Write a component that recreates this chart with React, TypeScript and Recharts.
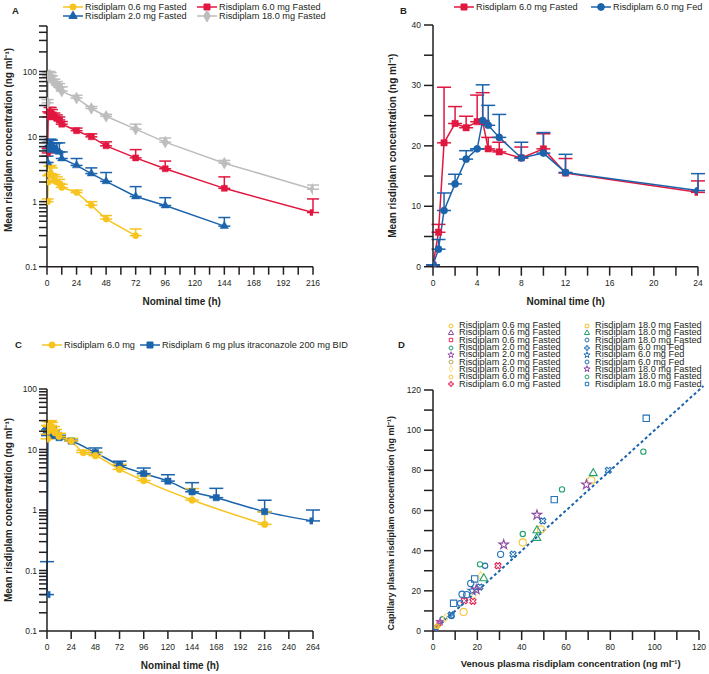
import React from 'react';
import {
  LineChart, ScatterChart, Line, Scatter, XAxis, YAxis, ErrorBar, Legend, ReferenceLine, Symbols,
} from 'recharts';

const FONT = '"Liberation Sans", Arial, Helvetica, sans-serif';
const INK = '#231f20';
const YELLOW = '#f7c41f';
const RED = '#e1173f';
const BLUE = '#1b63ab';
const GREY = '#bdbdbd';

// ---- panel A: single doses, fasted (log scale) ----
const tA06 = [0.5, 1, 2, 3, 4, 6, 8, 10, 12, 24, 36, 48, 72];
const cA06 = [1.0, 2.0, 2.6, 2.7, 2.5, 2.1, 2.0, 1.9, 1.65, 1.38, 0.88, 0.54, 0.3];
const eA06 = [0.1, 0.5, 0.9, 0.9, 0.8, 0.5, 0.4, 0.3, 0.2, 0.12, 0.12, 0.07, 0.08];
const tA2 = [0.5, 1, 2, 3, 4, 6, 8, 10, 12, 24, 36, 48, 72, 96, 144];
const cA2 = [4.0, 6.2, 7.0, 7.3, 7.0, 6.3, 6.0, 5.8, 4.6, 3.6, 2.7, 2.05, 1.2, 0.87, 0.42];
const eA2 = [1, 2, 2, 1.8, 1.8, 1.5, 2.0, 2.2, 1.2, 1.0, 0.6, 0.75, 0.5, 0.28, 0.15];
const tA6 = [0.5, 1, 2, 3, 4, 6, 8, 10, 12, 24, 36, 48, 72, 96, 144, 216];
const cA6 = [5.6, 20, 23, 23.5, 22, 20, 19, 18, 15.5, 12.3, 9.9, 7.2, 4.7, 3.2, 1.6, 0.68];
const eA6 = [1, 4, 5, 4.5, 4, 3, 2.5, 2, 1.5, 1.2, 1.1, 1.1, 1.6, 1.0, 0.8, 0.42];
const tA18 = [0.5, 1, 2, 3, 4, 6, 8, 10, 12, 24, 36, 48, 72, 96, 144, 216];
const cA18 = [33, 85, 88, 84, 76, 68, 62, 58, 50, 39, 27, 20.5, 13, 8.2, 3.9, 1.55];
const eA18 = [4, 12, 12, 12, 10, 8, 8, 7, 8, 4, 2, 1.5, 2.5, 1.3, 0.4, 0.25];
const aTimeTicks = [0, 12, 24, 36, 48, 60, 72, 84, 96, 108, 120, 132, 144, 156, 168, 180, 192, 204, 216];
const aTimeLabels = [0, 24, 48, 72, 96, 120, 144, 168, 192, 216];
const aDecades = [0.1, 1, 10, 100];

// ---- panel B: 6 mg fasted vs fed (linear scale) ----
const tB = [0, 0.5, 1, 2, 3, 4, 4.5, 5, 6, 8, 10, 12, 24];
const cBFasted = [0.3, 5.7, 20.5, 23.7, 23, 24, 24, 19.5, 19, 18, 19.5, 15.5, 12.3];
const eBFasted = [0, 1.3, 9.2, 2.8, 1.9, 4.4, 4.8, 1.9, 1.6, 1.8, 2.5, 2.4, 1.9];
const cBFed = [0.3, 2.9, 9.3, 13.7, 17.8, 19.5, 24.2, 23.4, 21.4, 18, 18.8, 15.6, 12.6];
const eBFed = [0, 1.6, 2.9, 1.6, 1.4, 0, 5.9, 3.3, 3.8, 2.6, 3.4, 3.0, 2.8];
const bTimeTicks = [0, 2, 4, 6, 8, 10, 12, 14, 16, 18, 20, 22, 24];
const bTimeLabels = [0, 4, 8, 12, 16, 20, 24];
const bConcTicks = [0, 5, 10, 15, 20, 25, 30, 35, 40];
const bConcLabels = [0, 10, 20, 30, 40];

// ---- panel C: itraconazole interaction (log scale) ----
const tC6 = [0.5, 1, 2, 3, 4, 6, 8, 12, 24, 36, 48, 72, 96, 144, 216];
const cC6 = [15, 20, 24, 25, 24, 21, 19, 16.5, 13.8, 8.9, 7.9, 4.7, 3.06, 1.46, 0.58];
const eC6 = [3, 5, 5, 5, 4, 3, 2.5, 2, 1.5, 0.8, 1.2, 1.0, 0.6, 0.8, 0.35];
const tCItra = [0, 1, 2, 3, 4, 6, 8, 12, 24, 48, 72, 96, 120, 144, 168, 216, 264];
const cCItra = [0.04, 17, 18, 19, 18, 17.5, 17, 15.7, 13.8, 8.9, 5.5, 4.0, 3.0, 2.0, 1.6, 0.94, 0.66];
const eCItra = [0.1, 4, 4, 4, 3, 3, 2, 1.5, 1.2, 1.7, 0.9, 0.94, 0.83, 0.83, 0.68, 0.51, 0.34];
const cTimeTicks = [0, 24, 48, 72, 96, 120, 144, 168, 192, 216, 240, 264];
const cDecades = [0.01, 0.1, 1, 10, 100];
const cDecadeLabels = ['0.1', '0.1', '1', '10', '100'];

// ---- panel D: capillary vs venous ----
const dLabels = [
  'Risdiplam 0.6 mg Fasted', 'Risdiplam 0.6 mg Fasted', 'Risdiplam 0.6 mg Fasted',
  'Risdiplam 2.0 mg Fasted', 'Risdiplam 2.0 mg Fasted', 'Risdiplam 2.0 mg Fasted',
  'Risdiplam 6.0 mg Fasted', 'Risdiplam 6.0 mg Fasted', 'Risdiplam 6.0 mg Fasted',
  'Risdiplam 18.0 mg Fasted', 'Risdiplam 18.0 mg Fasted', 'Risdiplam 18.0 mg Fasted',
  'Risdiplam 6.0 mg Fed', 'Risdiplam 6.0 mg Fed', 'Risdiplam 6.0 mg Fed',
  'Risdiplam 18.0 mg Fasted', 'Risdiplam 18.0 mg Fasted', 'Risdiplam 18.0 mg Fasted',
];
const dVenous = [
  [1.5, 2.3], [1.0], [2.7], [4.2], [3.2], [2.0],
  [21.5, 18.5, 5.5], [13.8, 40.5, 48.7, 71.4], [29.3, 14.1, 18.0],
  [1.7], [72.3, 46.9, 46.8, 22.9], [23.5, 12.2, 8.4],
  [79.1, 49.5, 36.1, 21.1, 8.1], [17.7, 0], [30.5, 17.0, 13.1, 15.2],
  [69.2, 46.9, 31.9, 19.5], [94.9, 58.2, 40.5, 21.2], [96.2, 54.7, 18.8, 9.3],
];
const dCapillary = [
  [1.6, 2.6], [1.3], [3.7], [6.1], [4.6], [2.4],
  [27.6, 17.9, 6.5], [9.5, 44.1, 50.6, 75.0], [32.5, 15.1, 14.8],
  [2.2], [78.5, 50.1, 46.3, 26.2], [32.5, 13.8, 7.5],
  [80.0, 54.8, 38.2, 21.9, 8.0], [20.1, 0], [38.2, 23.7, 18.3, 18.1],
  [72.9, 57.8, 43.0, 20.6], [89.3, 70.5, 48.3, 33.2], [105.9, 65.4, 25.9, 13.8],
];
const identityLine = [0, 122];
const dTicks = [0, 10, 20, 30, 40, 50, 60, 70, 80, 90, 100, 110, 120];
const dLabelsTicks = [0, 20, 40, 60, 80, 100, 120];

const dStyle = [
  { color: '#f5c21b', type: 'circle', size: 14 },
  { color: '#8e4aa3', type: 'triangle', size: 14 },
  { color: '#e2275a', type: 'square', size: 14 },
  { color: '#22a06b', type: 'circle', size: 14 },
  { color: '#9a52b0', type: 'star', size: 14 },
  { color: '#b3a44f', type: 'circle', size: 10 },
  { color: '#f9e08c', type: 'diamond', size: 20 },
  { color: '#f7c53a', type: 'circle', size: 40 },
  { color: '#e2275a', type: 'cross', size: 24, rot: true },
  { color: '#f2c230', type: 'square', size: 14, rot: true },
  { color: '#22a06b', type: 'triangle', size: 28 },
  { color: '#2472b5', type: 'circle', size: 22 },
  { color: '#2472b5', type: 'cross', size: 24, rot: true },
  { color: '#2472b5', type: 'star', size: 24 },
  { color: '#2472b5', type: 'circle', size: 30 },
  { color: '#8e4aa3', type: 'star', size: 28 },
  { color: '#22a06b', type: 'circle', size: 22 },
  { color: '#2472b5', type: 'square', size: 40 },
];

const rows = (t: number[], c: number[], e: number[]) => t.map((x, i) => ({ t: x, c: c[i], err: [0, e[i]] }));

const logTicks = (decades: number[], top: number) => {
  const out: number[] = [];
  decades.forEach((d) => {
    for (let k = 1; k <= 9; k++) {
      const v = +(d * k).toPrecision(3);
      if (v <= top) out.push(v);
    }
  });
  if (!out.includes(top)) out.push(top);
  return out;
};

const marker = (type: any, size: number, color: string) => (p: any) => {
  if (p.cx == null || p.cy == null) return <g key={`e${p.index}`} />;
  return <Symbols key={`m${p.index}`} cx={p.cx} cy={p.cy} type={type} size={size} fill={color} stroke={color} strokeWidth={0.5} />;
};

const axisLine = { stroke: INK, strokeWidth: 1.5 };
const tickStyle = { fill: INK, fontSize: 8.5, fontFamily: FONT };

const HTitle = ({ px, py, txt, fs = 10 }: any) => (
  <text x={px} y={py} textAnchor="middle" dominantBaseline="central" fontFamily={FONT} fontWeight="bold" fontSize={fs} fill={INK}>{txt}</text>
);
const VTitle = ({ px, py, txt, fs = 10 }: any) => (
  <text x={px} y={py} transform={`rotate(-90 ${px} ${py})`} textAnchor="middle" dominantBaseline="central" fontFamily={FONT} fontWeight="bold" fontSize={fs} fill={INK}>{txt}</text>
);

const KeyItem = ({ left, cy, color, type, size, label }: any) => (
  <div style={{ position: 'absolute', left, top: cy - 6, height: 12, display: 'flex', alignItems: 'center', whiteSpace: 'nowrap' }}>
    <svg width={20} height={12}>
      <line x1={0} y1={6} x2={20} y2={6} stroke={color} strokeWidth={1.5} />
      <Symbols cx={10} cy={6} type={type} size={size} fill={color} stroke={color} />
    </svg>
    <span style={{ marginLeft: 2, fontSize: 9.2, color: INK, fontFamily: FONT }}>{label}</span>
  </div>
);

const Letter = ({ left, cy, ch }: any) => (
  <div style={{ position: 'absolute', left, top: cy - 6, fontSize: 9.5, lineHeight: '12px', fontWeight: 'bold', fontFamily: FONT, color: INK }}>{ch}</div>
);

const KeyA = () => (
  <div style={{ position: 'relative', width: 354, height: 24 }}>
    <Letter left={12} cy={11} ch="A" />
    <KeyItem left={63} cy={6.7} color={YELLOW} type="circle" size={30} label="Risdiplam 0.6 mg Fasted" />
    <KeyItem left={63} cy={16.3} color={BLUE} type="triangle" size={30} label="Risdiplam 2.0 mg Fasted" />
    <KeyItem left={197} cy={6.7} color={RED} type="square" size={36} label="Risdiplam 6.0 mg Fasted" />
    <KeyItem left={197} cy={16.3} color={GREY} type="diamond" size={40} label="Risdiplam 18.0 mg Fasted" />
  </div>
);

const KeyB = () => (
  <div style={{ position: 'relative', width: 355, height: 24 }}>
    <Letter left={46} cy={11} ch="B" />
    <KeyItem left={100} cy={6.7} color={RED} type="square" size={36} label="Risdiplam 6.0 mg Fasted" />
    <KeyItem left={237} cy={6.7} color={BLUE} type="circle" size={36} label="Risdiplam 6.0 mg Fed" />
  </div>
);

const KeyC = () => (
  <div style={{ position: 'relative', width: 354, height: 24 }}>
    <Letter left={15} cy={15} ch="C" />
    <KeyItem left={42} cy={15} color={YELLOW} type="circle" size={30} label="Risdiplam 6.0 mg" />
    <KeyItem left={140} cy={15} color={BLUE} type="square" size={36} label="Risdiplam 6 mg plus itraconazole 200 mg BID" />
  </div>
);

const KeyD = () => (
  <div style={{ position: 'relative', width: 355, height: 80 }}>
    <Letter left={44} cy={29} ch="D" />
    {dLabels.map((label, i) => {
      const col = i < 9 ? 0 : 1;
      const row = i % 9;
      const s = dStyle[i];
      const cy = 9.7 + row * 7.3;
      return (
        <div key={i} style={{ position: 'absolute', left: col ? 229 : 93, top: cy - 4.6, height: 9.2, display: 'flex', alignItems: 'center', whiteSpace: 'nowrap' }}>
          <svg width={8} height={8}>
            <Symbols cx={4} cy={4} type={s.type as any} size={12} fill="none" stroke={s.color} strokeWidth={1} />
          </svg>
          <span style={{ marginLeft: 4, fontSize: 9.2, lineHeight: '9.2px', color: INK, fontFamily: FONT }}>{label}</span>
        </div>
      );
    })}
  </div>
);

const legendAt = (w: number, h: number, content: any) => (
  <Legend verticalAlign="middle" align="center" layout="horizontal" wrapperStyle={{ left: 0, top: 0, width: w, height: h, margin: 0, padding: 0 }} content={content} />
);

const aLog = logTicks(aDecades, 500);
const aFmt = (v: number) => (aDecades.includes(v) ? String(v) : '');
const cLog = logTicks(cDecades.slice(0, 4), 100);
const cFmt = (v: number) => {
  const i = cDecades.indexOf(v);
  return i >= 0 ? cDecadeLabels[i] : '';
};

export default function App() {
  return (
    <div style={{ position: 'absolute', left: 0, top: 0, width: 709, height: 674, background: '#fff', fontFamily: FONT }}>
      {/* A */}
      <div style={{ position: 'absolute', left: 0, top: 0 }}>
        <LineChart width={354} height={330} margin={{ top: 26, right: 41, left: 7, bottom: 33.3 }}>
          <XAxis type="number" dataKey="t" domain={[0, 216]} ticks={aTimeTicks} interval={0} allowDataOverflow
            tickFormatter={(v) => (aTimeLabels.includes(v) ? String(v) : '')}
            axisLine={axisLine} tickLine={axisLine} tickSize={8} tickMargin={5} tick={tickStyle} height={30}
            label={<HTitle px={181.7} py={301.7} txt="Nominal time (h)" />} />
          <YAxis type="number" scale="log" domain={[0.1, 500]} ticks={aLog} interval={0} allowDataOverflow
            tickFormatter={aFmt} axisLine={axisLine} tickLine={axisLine} tickSize={8} tickMargin={2} tick={tickStyle} width={40}
            label={<VTitle px={8.3} py={140} txt="Mean risdiplam concentration (ng ml⁻¹)" />} />
          {legendAt(354, 24, () => <KeyA />)}
          <Line data={rows(tA18, cA18, eA18)} dataKey="c" stroke={GREY} strokeWidth={1.5} dot={marker('diamond', 40, GREY)} isAnimationActive={false}>
            <ErrorBar dataKey="err" direction="y" width={6} stroke={GREY} strokeWidth={1.5} />
          </Line>
          <Line data={rows(tA6, cA6, eA6)} dataKey="c" stroke={RED} strokeWidth={1.5} dot={marker('square', 36, RED)} isAnimationActive={false}>
            <ErrorBar dataKey="err" direction="y" width={6} stroke={RED} strokeWidth={1.5} />
          </Line>
          <Line data={rows(tA2, cA2, eA2)} dataKey="c" stroke={BLUE} strokeWidth={1.5} dot={marker('triangle', 30, BLUE)} isAnimationActive={false}>
            <ErrorBar dataKey="err" direction="y" width={6} stroke={BLUE} strokeWidth={1.5} />
          </Line>
          <Line data={rows(tA06, cA06, eA06)} dataKey="c" stroke={YELLOW} strokeWidth={1.5} dot={marker('circle', 30, YELLOW)} isAnimationActive={false}>
            <ErrorBar dataKey="err" direction="y" width={6} stroke={YELLOW} strokeWidth={1.5} />
          </Line>
        </LineChart>
      </div>

      {/* B */}
      <div style={{ position: 'absolute', left: 354, top: 0 }}>
        <LineChart width={355} height={330} margin={{ top: 25, right: 11, left: 39, bottom: 33.3 }}>
          <XAxis type="number" dataKey="t" domain={[0, 24]} ticks={bTimeTicks} interval={0} allowDataOverflow
            tickFormatter={(v) => (bTimeLabels.includes(v) ? String(v) : '')}
            axisLine={axisLine} tickLine={axisLine} tickSize={9} tickMargin={4} tick={tickStyle} height={30}
            label={<HTitle px={211.7} py={301.7} txt="Nominal time (h)" />} />
          <YAxis type="number" domain={[0, 40]} ticks={bConcTicks} interval={0} allowDataOverflow
            tickFormatter={(v) => (bConcLabels.includes(v) ? String(v) : '')}
            axisLine={axisLine} tickLine={axisLine} tickSize={9} tickMargin={3} tick={tickStyle} width={40}
            label={<VTitle px={38.3} py={145.7} txt="Mean risdiplam concentration (ng ml⁻¹)" />} />
          {legendAt(355, 24, () => <KeyB />)}
          <Line data={rows(tB, cBFasted, eBFasted)} dataKey="c" stroke={RED} strokeWidth={1.5} dot={marker('square', 40, RED)} isAnimationActive={false}>
            <ErrorBar dataKey="err" direction="y" width={7} stroke={RED} strokeWidth={1.5} />
          </Line>
          <Line data={rows(tB, cBFed, eBFed)} dataKey="c" stroke={BLUE} strokeWidth={1.5} dot={marker('circle', 40, BLUE)} isAnimationActive={false}>
            <ErrorBar dataKey="err" direction="y" width={7} stroke={BLUE} strokeWidth={1.5} />
          </Line>
        </LineChart>
      </div>

      {/* C */}
      <div style={{ position: 'absolute', left: 0, top: 330 }}>
        <LineChart width={354} height={344} margin={{ top: 59, right: 41, left: 7, bottom: 13 }}>
          <XAxis type="number" dataKey="t" domain={[0, 264]} ticks={cTimeTicks} interval={0} allowDataOverflow
            axisLine={axisLine} tickLine={axisLine} tickSize={8} tickMargin={5} tick={tickStyle} height={30}
            label={<HTitle px={180} py={335} txt="Nominal time (h)" />} />
          <YAxis type="number" scale="log" domain={[0.01, 100]} ticks={cLog} interval={0} allowDataOverflow
            tickFormatter={cFmt} axisLine={axisLine} tickLine={axisLine} tickSize={8} tickMargin={2} tick={tickStyle} width={40}
            label={<VTitle px={8.3} py={180} txt="Mean risdiplam concentration (ng ml⁻¹)" />} />
          {legendAt(354, 30, () => <KeyC />)}
          <Line type="monotone" data={rows(tCItra, cCItra, eCItra)} dataKey="c" stroke={BLUE} strokeWidth={1.5} dot={marker('square', 40, BLUE)} isAnimationActive={false}>
            <ErrorBar dataKey="err" direction="y" width={7} stroke={BLUE} strokeWidth={1.5} />
          </Line>
          <Line type="monotone" data={rows(tC6, cC6, eC6)} dataKey="c" stroke={YELLOW} strokeWidth={1.5} dot={marker('circle', 36, YELLOW)} isAnimationActive={false}>
            <ErrorBar dataKey="err" direction="y" width={7} stroke={YELLOW} strokeWidth={1.5} />
          </Line>
        </LineChart>
      </div>

      {/* D */}
      <div style={{ position: 'absolute', left: 354, top: 316 }}>
        <ScatterChart width={355} height={358} margin={{ top: 74, right: 10, left: 39, bottom: 13 }}>
          <XAxis type="number" dataKey="x" domain={[0, 120]} ticks={dTicks} interval={0} allowDataOverflow
            tickFormatter={(v) => (dLabelsTicks.includes(v) ? String(v) : '')}
            axisLine={axisLine} tickLine={axisLine} tickSize={9} tickMargin={4} tick={tickStyle} height={30}
            label={<HTitle px={216.7} py={347.3} fs={9.5} txt="Venous plasma risdiplam concentration (ng ml⁻¹)" />} />
          <YAxis type="number" dataKey="y" domain={[0, 120]} ticks={dTicks} interval={0} allowDataOverflow
            tickFormatter={(v) => (dLabelsTicks.includes(v) ? String(v) : '')}
            axisLine={axisLine} tickLine={axisLine} tickSize={9} tickMargin={3} tick={tickStyle} width={40}
            label={<VTitle px={37.3} py={207.3} fs={9} txt="Capillary plasma risdiplam concentration (ng ml⁻¹)" />} />
          {legendAt(355, 80, () => <KeyD />)}
          <ReferenceLine segment={[{ x: identityLine[0], y: identityLine[0] }, { x: identityLine[1], y: identityLine[1] }]}
            ifOverflow="visible" stroke={BLUE} strokeWidth={2} strokeDasharray="3 2.5" />
          {dLabels.map((label, i) => {
            const s = dStyle[i];
            const pts = dVenous[i].map((x, j) => ({ x, y: dCapillary[i][j] }));
            return (
              <Scatter key={i} name={label} data={pts} isAnimationActive={false}
                shape={(p: any) => (
                  <g transform={s.rot ? `rotate(45 ${p.cx} ${p.cy})` : undefined}>
                    <Symbols cx={p.cx} cy={p.cy} type={s.type as any} size={s.size} fill="none" stroke={s.color} strokeWidth={1.1} />
                  </g>
                )} />
            );
          })}
        </ScatterChart>
      </div>
    </div>
  );
}
